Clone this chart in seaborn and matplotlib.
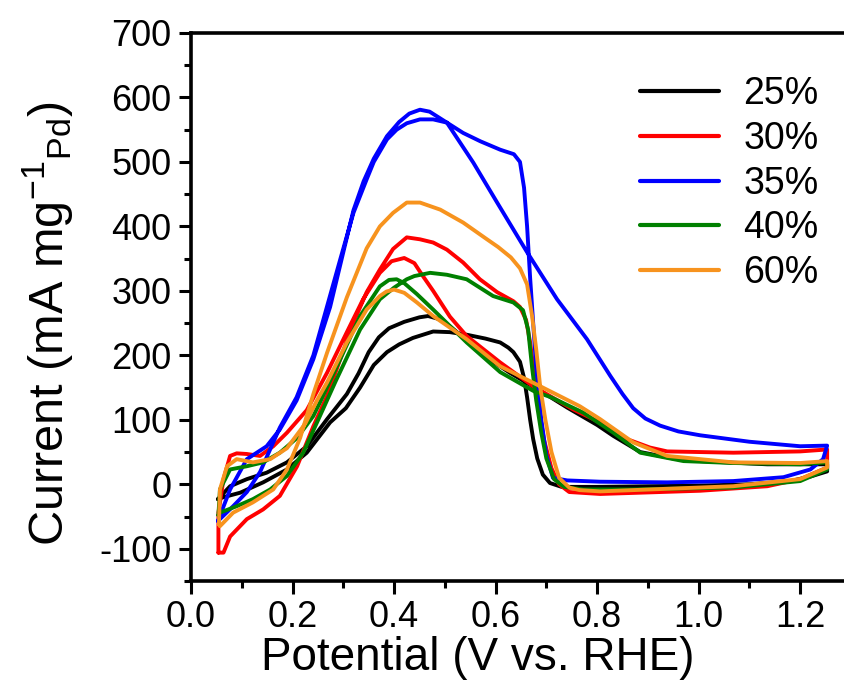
import numpy as np
import pandas as pd
import matplotlib
matplotlib.use("Agg")
import matplotlib.pyplot as plt
from matplotlib.ticker import MultipleLocator
import seaborn as sns

# ---------------- data ----------------
labels = ["25%", "30%", "35%", "40%", "60%"]
colors = ["#000000", "#ff0000", "#0000ff", "#008000", "#f7931e"]

# 25 %
pot_25 = [0.053, 0.077, 0.110, 0.149, 0.189, 0.228, 0.268, 0.307, 0.330, 0.350, 0.370, 0.390, 0.420,
          0.450, 0.467, 0.490, 0.510, 0.530, 0.576, 0.628, 0.688, 0.741, 0.800, 0.832, 0.885, 0.950,
          1.003, 1.135, 1.253,
          1.253, 1.220, 1.180, 1.100, 1.000, 0.900, 0.800, 0.730, 0.707, 0.693, 0.682, 0.674, 0.668,
          0.662, 0.656, 0.648, 0.635, 0.625, 0.609, 0.580, 0.543, 0.510, 0.477, 0.437, 0.410, 0.386,
          0.360, 0.333, 0.305, 0.274, 0.228, 0.189, 0.142, 0.097, 0.064, 0.053]
cur_25 = [-23, -3, 8, 18, 34, 59, 101, 140, 172, 205, 228, 242, 252,
          259, 261, 256, 245, 232, 200, 173, 145, 119, 92, 75, 50, 40,
          36, 31, 31,
          20, 12, 5, 0, -2, -3, -4, -4, 2, 15, 40, 70, 100,
          135, 165, 190, 205, 212, 220, 226, 232, 236, 237, 227, 217, 205,
          185, 150, 118, 96, 49, 23, 3, -13, -20, -23]

# 30 %
pot_30 = [0.054, 0.054, 0.064, 0.077, 0.090, 0.110, 0.136, 0.162, 0.189, 0.228, 0.268, 0.307, 0.339,
          0.372, 0.395, 0.420, 0.440, 0.455, 0.477, 0.510, 0.543, 0.609, 0.674, 0.753, 0.806, 0.859,
          0.904, 0.938, 1.068, 1.200, 1.253,
          1.253, 1.200, 1.135, 1.003, 0.806, 0.745, 0.725, 0.710, 0.695, 0.685, 0.676, 0.668, 0.660,
          0.648, 0.635, 0.603, 0.569, 0.536, 0.504, 0.477, 0.451, 0.425, 0.398, 0.372, 0.346, 0.320,
          0.294, 0.268, 0.241, 0.209, 0.175, 0.142, 0.110, 0.077, 0.064, 0.054]
cur_30 = [-106, -44, 8, 44, 48, 47, 44, 59, 80, 115, 173, 236, 287,
          328, 346, 351, 343, 325, 300, 260, 230, 189, 152, 116, 96, 70,
          57, 51, 49, 51, 54,
          26, 8, -3, -10, -15, -12, 0, 25, 70, 120, 170, 220, 255,
          275, 284, 298, 318, 344, 364, 375, 380, 383, 365, 333, 298, 251,
          194, 137, 90, 28, -18, -39, -54, -81, -106, -106]

# 35 %
pot_35 = [0.053, 0.077, 0.110, 0.149, 0.175, 0.208, 0.241, 0.274, 0.300, 0.320, 0.340, 0.360, 0.386,
          0.410, 0.430, 0.451, 0.470, 0.504, 0.556, 0.603, 0.662, 0.721, 0.780, 0.826, 0.850, 0.871,
          0.895, 0.924, 0.960, 1.003, 1.100, 1.200, 1.253,
          1.245, 1.220, 1.167, 1.068, 0.938, 0.806, 0.741, 0.713, 0.700, 0.690, 0.680, 0.674, 0.668,
          0.662, 0.656, 0.648, 0.636, 0.609, 0.570, 0.536, 0.504, 0.477, 0.451, 0.425, 0.405, 0.386,
          0.360, 0.346, 0.320, 0.294, 0.268, 0.241, 0.208, 0.175, 0.162, 0.136, 0.110, 0.083, 0.053]
cur_35 = [-57, -8, 39, 59, 85, 130, 194, 275, 360, 425, 470, 505, 540,
          562, 575, 581, 578, 561, 499, 437, 360, 287, 225, 168, 140, 118,
          102, 91, 82, 76, 66, 59, 60,
          39, 23, 11, 5, 3, 4, 6, 10, 45, 100, 180, 250, 320,
          400, 460, 500, 512, 519, 532, 545, 561, 566, 566, 560, 550, 535,
          500, 473, 421, 349, 276, 200, 135, 88, 65, 19, -12, -34, -57]

# 40 %
pot_40 = [0.054, 0.057, 0.077, 0.110, 0.142, 0.175, 0.209, 0.241, 0.254, 0.294, 0.333, 0.372, 0.390,
          0.405, 0.420, 0.445, 0.477, 0.543, 0.609, 0.674, 0.709, 0.773, 0.832, 0.885, 0.970, 1.068,
          1.200, 1.253,
          1.253, 1.200, 1.068, 0.871, 0.773, 0.735, 0.715, 0.700, 0.690, 0.680, 0.672, 0.664, 0.654,
          0.635, 0.595, 0.543, 0.504, 0.471, 0.440, 0.425, 0.400, 0.372, 0.333, 0.285, 0.254, 0.221,
          0.189, 0.156, 0.122, 0.090, 0.057, 0.054]
cur_40 = [-48, -8, 23, 28, 34, 49, 72, 106, 127, 194, 261, 307, 317,
          318, 312, 295, 271, 220, 174, 145, 135, 111, 80, 49, 36, 33,
          31, 34,
          23, 5, -5, -8, -8, -4, 8, 40, 80, 130, 180, 240, 270,
          282, 292, 318, 325, 328, 323, 318, 305, 287, 240, 160, 106, 49,
          13, -8, -23, -34, -44, -48]

# 60 %
pot_60 = [0.055, 0.057, 0.071, 0.090, 0.122, 0.156, 0.189, 0.225, 0.248, 0.268, 0.307, 0.346, 0.372,
          0.385, 0.400, 0.420, 0.445, 0.477, 0.543, 0.609, 0.688, 0.766, 0.806, 0.871, 0.938, 1.068,
          1.200, 1.253,
          1.253, 1.200, 1.068, 0.806, 0.765, 0.745, 0.725, 0.710, 0.698, 0.688, 0.680, 0.672, 0.662,
          0.648, 0.630, 0.605, 0.583, 0.536, 0.491, 0.451, 0.425, 0.398, 0.372, 0.346, 0.307, 0.268,
          0.241, 0.215, 0.189, 0.162, 0.122, 0.083, 0.057, 0.055]
cur_60 = [-62, -8, 28, 39, 34, 39, 56, 94, 130, 158, 220, 271, 292,
          299, 302, 297, 282, 261, 225, 183, 152, 121, 101, 65, 44, 34,
          33, 36,
          26, 8, -3, -11, -9, -5, 10, 50, 100, 150, 209, 260, 310,
          335, 352, 368, 380, 406, 426, 437, 437, 421, 400, 366, 290, 204,
          140, 72, 23, -8, -28, -44, -65, -62]

pots = [pot_25, pot_30, pot_35, pot_40, pot_60]
curs = [cur_25, cur_30, cur_35, cur_40, cur_60]

# ---------------- style ----------------
sns.set_style("ticks")
plt.rcParams["font.family"] = ["Liberation Sans", "DejaVu Sans"]
plt.rcParams["mathtext.fontset"] = "custom"
plt.rcParams["mathtext.rm"] = "Liberation Sans"
plt.rcParams["mathtext.it"] = "Liberation Sans:italic"
plt.rcParams["mathtext.bf"] = "Liberation Sans:bold"
plt.rcParams["axes.unicode_minus"] = False
for key in ["text.color", "axes.labelcolor", "xtick.color", "ytick.color",
            "axes.edgecolor", "xtick.labelcolor", "ytick.labelcolor"]:
    plt.rcParams[key] = "black"

frames = []
for lab, p, c in zip(labels, pots, curs):
    frames.append(pd.DataFrame({"Potential": p, "Current": c, "loading": lab}))
df = pd.concat(frames, ignore_index=True)

fig = plt.figure(figsize=(8.44, 6.97), dpi=100)
ax = fig.add_axes([191 / 844, 116 / 697, 660 / 844, 548 / 697])

sns.lineplot(data=df, x="Potential", y="Current", hue="loading", hue_order=labels,
             palette=dict(zip(labels, colors)), sort=False, estimator=None,
             linewidth=2.8, ax=ax, legend=True)
for ln in ax.get_lines():
    ln.set_solid_joinstyle("round")
    ln.set_solid_capstyle("round")

ax.set_xlim(0, 1.3)
ax.set_ylim(-150, 700)
ax.set_xticks(np.arange(0, 1.21, 0.2))
ax.set_xticklabels(["0.0", "0.2", "0.4", "0.6", "0.8", "1.0", "1.2"])
ax.xaxis.set_minor_locator(MultipleLocator(0.1))
ax.set_yticks(np.arange(-100, 701, 100))
ax.yaxis.set_minor_locator(MultipleLocator(50))

ax.tick_params(axis="both", which="major", direction="out", length=9, width=2.2,
               labelsize=26, pad=5, top=False, right=False, colors="black")
ax.tick_params(axis="both", which="minor", direction="out", length=5, width=2.2,
               top=False, right=False, colors="black")
for side in ["left", "bottom", "top"]:
    ax.spines[side].set_linewidth(2.6)
    ax.spines[side].set_color("black")
    ax.spines[side].set_visible(True)
ax.spines["right"].set_visible(False)

ax.set_xlabel("Potential (V vs. RHE)", fontsize=33, color="black")
ax.set_ylabel(r"Current (mA mg$^{-1}$$_{\mathrm{Pd}}$)", fontsize=35, color="black")
ax.xaxis.set_label_coords(0.434, -0.10)
ax.yaxis.set_label_coords(-0.175, 0.47)

handles, labs = ax.get_legend_handles_labels()
leg = ax.legend(handles, labs, loc="upper left", bbox_to_anchor=(640 / 844, 1 - 76 / 697),
                bbox_transform=fig.transFigure, frameon=False, fontsize=27,
                handlelength=2.1, handletextpad=0.65, labelspacing=0.235,
                borderpad=0, borderaxespad=0)
for h in leg.get_lines():
    h.set_linewidth(3.0)

fig.savefig("out.png", dpi=100)
